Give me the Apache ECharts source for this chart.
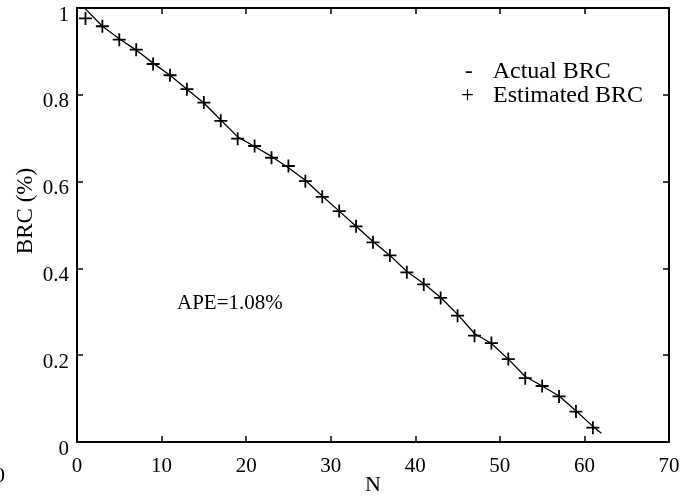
<!DOCTYPE html>
<html lang="en">
<head>
  <meta charset="UTF-8">
  <title>BRC</title>
  <script src="https://cdn.jsdelivr.net/npm/echarts@6/dist/echarts.min.js"></script>
  <style>
    html, body { margin: 0; padding: 0; background: #fff; }
    #chart { width: 692px; height: 499px; }
  </style>
</head>
<body>
  <div id="chart"></div>
  <script type="text/javascript">
    // actual BRC curve
    const actualN = [1, 3, 5, 7, 9, 11, 13, 15, 17, 19, 21, 23, 25, 27, 29, 31,
      33, 35, 37, 39, 41, 43, 45, 47, 49, 51, 53, 55, 57, 59, 61, 62];
    const actualBRC = [0.998, 0.958, 0.929, 0.903, 0.873, 0.845, 0.813, 0.781,
      0.742, 0.703, 0.681, 0.658, 0.632, 0.603, 0.567, 0.532, 0.497, 0.462,
      0.430, 0.393, 0.365, 0.333, 0.294, 0.250, 0.227, 0.191, 0.151, 0.129,
      0.106, 0.072, 0.036, 0.020];

    // estimated BRC points
    const estN = [1, 3, 5, 7, 9, 11, 13, 15, 17, 19, 21, 23, 25, 27, 29, 31,
      33, 35, 37, 39, 41, 43, 45, 47, 49, 51, 53, 55, 57, 59, 61];
    const estBRC = [0.976, 0.958, 0.927, 0.904, 0.871, 0.845, 0.813, 0.782,
      0.740, 0.699, 0.682, 0.655, 0.636, 0.601, 0.565, 0.532, 0.497, 0.460,
      0.430, 0.391, 0.363, 0.332, 0.291, 0.245, 0.228, 0.191, 0.147, 0.129,
      0.105, 0.070, 0.033];

    const xTicks = { min: 0, max: 70, interval: 10 };
    const yTicks = { min: 0, max: 1, interval: 0.2 };
    const apeText = 'APE=1.08%';

    const font = "'Liberation Serif', 'Times New Roman', serif";
    const black = '#000';

    const zip = (xs, ys) => xs.map((x, i) => [x, ys[i]]);

    const axisCommon = {
      axisLine: { show: true, onZero: false, lineStyle: { color: black, width: 2 } },
      axisTick: { show: true, inside: true, length: 6, lineStyle: { color: black, width: 1.5 } },
      splitLine: { show: false },
    };

    const myChart = echarts.init(document.getElementById('chart'));

    const option = {
      backgroundColor: '#fff',
      animation: false,
      textStyle: { fontFamily: font, color: black },
      grid: { left: 77, right: 23, top: 8, bottom: 57, outerBoundsMode: 'none', containLabel: false },
      xAxis: [{
        type: 'value',
        ...xTicks,
        ...axisCommon,
        name: 'N',
        nameLocation: 'middle',
        nameGap: 32,
        nameMoveOverlap: false,
        nameTextStyle: { fontFamily: font, fontSize: 22, color: black },
        axisLabel: { fontFamily: font, fontSize: 21, color: black, margin: 14 },
      }, {
        type: 'value',
        position: 'top',
        ...xTicks,
        ...axisCommon,
        axisLabel: { show: false },
      }],
      yAxis: [{
        type: 'value',
        ...yTicks,
        ...axisCommon,
        name: 'BRC (%)',
        nameLocation: 'middle',
        nameGap: 40,
        nameMoveOverlap: false,
        nameTextStyle: { fontFamily: font, fontSize: 23, color: black, padding: [0, 0, 0, 28] },
        axisLabel: {
          fontFamily: font, fontSize: 21, color: black, margin: 8,
          verticalAlign: 'top', lineHeight: 14,
        },
      }, {
        type: 'value',
        position: 'right',
        ...yTicks,
        ...axisCommon,
        axisLabel: { show: false },
      }],
      legend: {
        orient: 'vertical',
        left: 453,
        top: 60,
        padding: 0,
        itemGap: 0,
        itemWidth: 0,
        icon: 'none',
        data: ['Actual BRC', 'Estimated BRC'],
        formatter: name => (name === 'Actual BRC' ? '{a|-}' : '{b|+}') + '{t|' + name + '}',
        textStyle: {
          fontFamily: font,
          fontSize: 24,
          color: black,
          rich: {
            a: { fontFamily: font, fontSize: 23, lineHeight: 25, padding: [0, 20, 0, 7] },
            b: { fontFamily: font, fontSize: 23, lineHeight: 25, padding: [0, 19, 0, 3] },
            t: { fontFamily: font, fontSize: 24, lineHeight: 25 },
          },
        },
      },
      graphic: [{
        type: 'text',
        left: 177,
        top: 293,
        style: { text: apeText, font: '21px ' + font, fill: black },
      }, {
        type: 'text',
        left: -6,
        top: 465,
        style: { text: '0', font: '22px ' + font, fill: black },
      }],
      series: [{
        name: 'Actual BRC',
        type: 'line',
        data: zip(actualN, actualBRC),
        showSymbol: false,
        symbol: 'none',
        lineStyle: { color: black, width: 1.3 },
        itemStyle: { color: black },
      }, {
        name: 'Estimated BRC',
        type: 'line',
        data: zip(estN, estBRC),
        symbol: 'path://M0,6L12,6M6,0L6,12',
        symbolSize: 13,
        lineStyle: { width: 0, opacity: 0 },
        itemStyle: { color: 'rgba(0,0,0,0)', borderColor: black, borderWidth: 1.8 },
      }],
    };
    myChart.setOption(option);
  </script>
</body>
</html>
